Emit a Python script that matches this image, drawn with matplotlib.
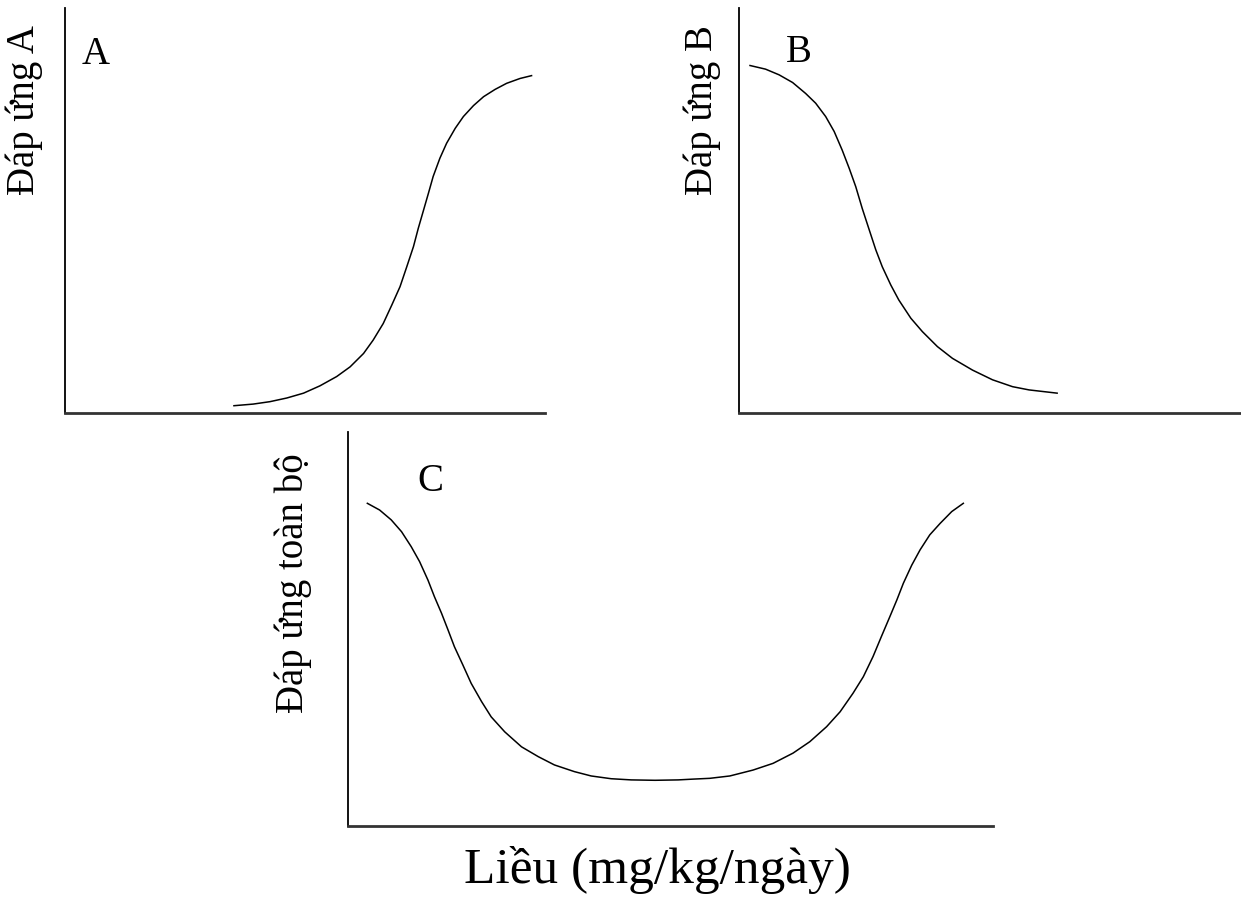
import numpy as np
import matplotlib
matplotlib.use("Agg")
import matplotlib.pyplot as plt

plt.rcParams['font.family'] = ['Liberation Serif', 'DejaVu Serif']

# dose (0-10) / response (0-100) points for each curve
dose_a = [3.52, 3.92, 4.27, 4.62, 4.97, 5.31, 5.66, 5.94, 6.22, 6.42, 6.63, 6.81, 6.98, 7.12, 7.26,
          7.36, 7.47, 7.57, 7.67, 7.81, 7.95, 8.13, 8.30, 8.51, 8.72, 8.96, 9.20, 9.48, 9.72]
resp_a = [1.8, 2.2, 2.8, 3.7, 4.9, 6.7, 9.0, 11.4, 14.7, 18.0, 22.1, 26.7, 31.2, 36.1, 41.1,
          45.6, 50.1, 54.2, 58.4, 62.9, 66.6, 70.3, 73.2, 75.9, 78.1, 79.9, 81.4, 82.6, 83.3]

dose_b = [0.22, 0.53, 0.80, 1.07, 1.33, 1.53, 1.73, 1.90, 2.06, 2.20, 2.33, 2.46, 2.60,
          2.73, 2.86, 3.03, 3.19, 3.43, 3.66, 3.96, 4.26, 4.66, 5.06, 5.46, 5.79, 6.35]
resp_b = [85.8, 84.9, 83.5, 81.6, 78.9, 76.5, 73.2, 69.5, 64.9, 60.4, 55.9, 50.5, 45.2,
          40.3, 36.1, 31.6, 27.9, 23.4, 20.1, 16.4, 13.5, 10.6, 8.2, 6.5, 5.7, 4.9]

dose_c = [0.30, 0.49, 0.67, 0.83, 0.98, 1.11, 1.24, 1.34, 1.45, 1.55, 1.65, 1.78, 1.91,
          2.07, 2.22, 2.43, 2.69, 2.95, 3.20, 3.51, 3.77, 4.08, 4.39, 4.76, 5.12,
          5.35, 5.61, 5.92, 6.28, 6.59, 6.90, 7.16, 7.42, 7.63, 7.83, 7.99, 8.14,
          8.27, 8.40, 8.51, 8.61, 8.74, 8.87, 9.02, 9.18, 9.36, 9.54]
resp_c = [81.9, 80.2, 77.7, 74.7, 70.9, 67.1, 62.4, 58.2, 54.0, 49.8, 45.5, 40.9, 36.2,
          31.6, 27.7, 23.9, 20.1, 17.6, 15.5, 13.8, 12.7, 12.0, 11.7, 11.6, 11.7,
          11.9, 12.1, 12.7, 14.2, 15.9, 18.5, 21.4, 25.2, 29.0, 33.7, 37.9, 43.0,
          48.1, 53.1, 57.4, 61.6, 66.2, 70.1, 73.9, 76.8, 79.8, 81.9]

W, H = 1241, 898
fig = plt.figure(figsize=(W / 100, H / 100), dpi=100)


def px_axes(left, top, right, bottom):
    # axes placed by pixel edges
    ax = fig.add_axes([left / W, 1 - bottom / H, (right - left) / W, (bottom - top) / H])
    ax.set_xlim(0, 10)
    ax.set_ylim(0, 100)
    for s in ['top', 'right']:
        ax.spines[s].set_visible(False)
    ax.spines['left'].set_linewidth(1.3)
    ax.spines['bottom'].set_linewidth(2.0)
    ax.spines['bottom'].set_color('#333333')
    ax.set_xticks([])
    ax.set_yticks([])
    return ax


def px_text(x, y, s, **kw):
    fig.text(x / W, 1 - y / H, s, ha='center', va='center', **kw)


ax_a = px_axes(65, 8, 545, 413)
ax_a.plot(dose_a, resp_a, color='black', lw=1.1)

ax_b = px_axes(739, 8, 1240, 413)
ax_b.plot(dose_b, resp_b, color='black', lw=1.1)

ax_c = px_axes(348, 432, 993, 826)
ax_c.plot(dose_c, resp_c, color='black', lw=1.1)

fs = 28
px_text(96, 55, 'A', fontsize=fs)
px_text(799, 52, 'B', fontsize=fs)
px_text(430, 481, 'C', fontsize=fs)

px_text(24, 110, 'Đáp ứng A', fontsize=fs, rotation=90)
px_text(702, 110, 'Đáp ứng B', fontsize=fs, rotation=90)
px_text(293, 583, 'Đáp ứng toàn bộ', fontsize=fs, rotation=90)

px_text(657, 870, 'Liều (mg/kg/ngày)', fontsize=37)

fig.savefig('out.png', dpi=100, facecolor='white')
